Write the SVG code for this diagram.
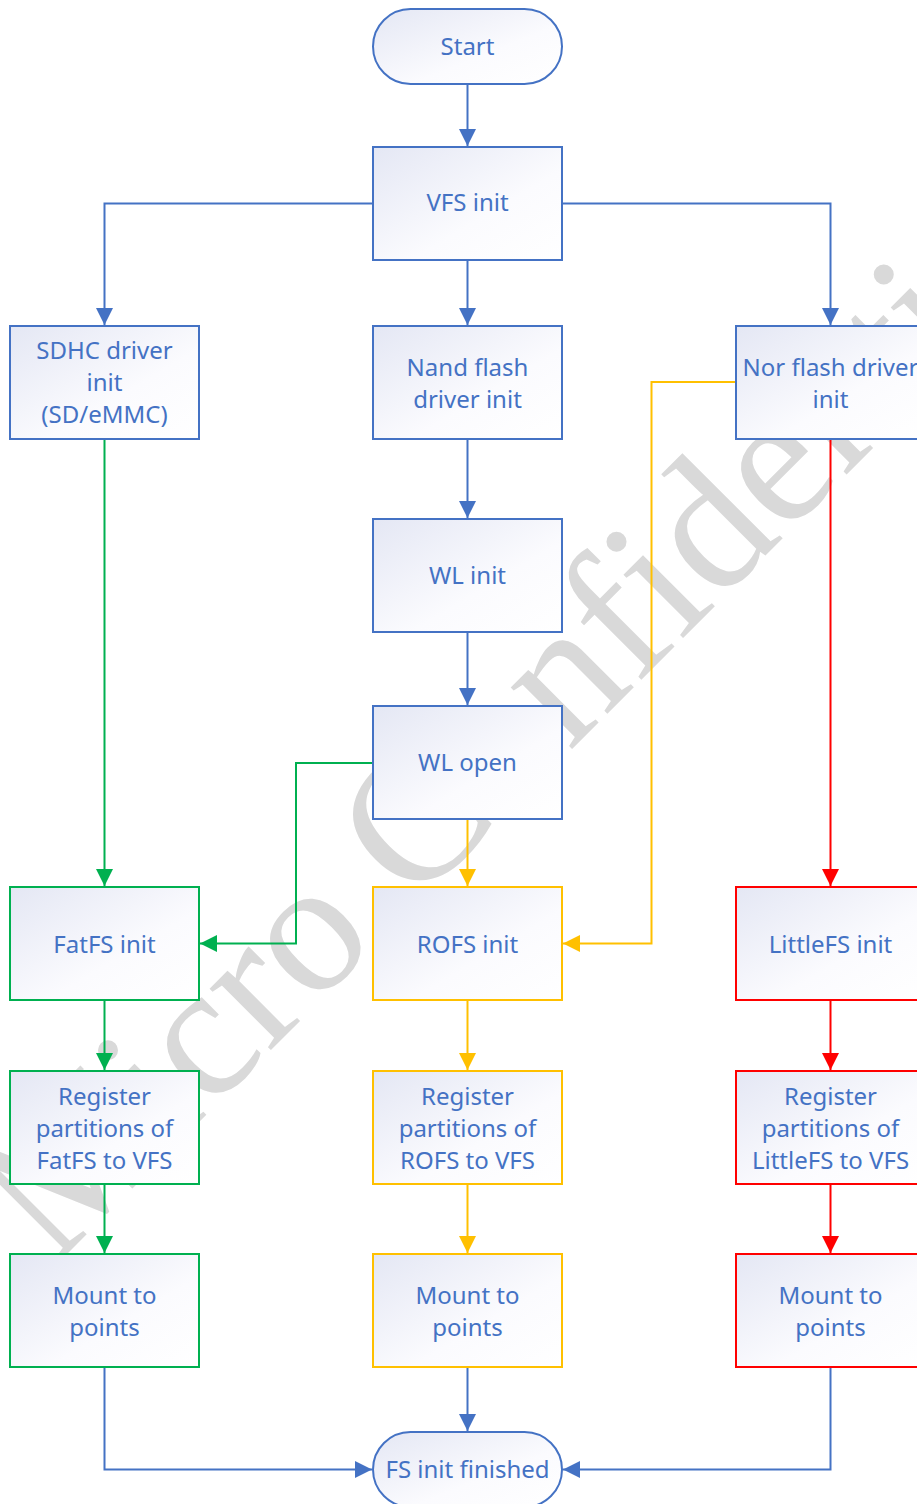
<svg xmlns="http://www.w3.org/2000/svg" width="917" height="1504" viewBox="0 0 917 1504">
<style>
.nb{stroke-width:2}
.b{stroke:#4472C4}
.g{stroke:#00B050}
.y{stroke:#FFC000}
.r{stroke:#FF0000}
.box{fill:url(#gr)}
.t{font-family:"Noto Sans","Liberation Sans",sans-serif;font-size:24px;fill:#4472C4;text-anchor:middle}
.c{fill:none;stroke-width:2}
.wm{font-family:"Liberation Serif",serif;font-size:189px;fill:#d9d9d9}
</style>
<defs>
<linearGradient id="gr" x1="0" y1="0" x2="1" y2="1">
<stop offset="0" stop-color="#e4e7f4"/>
<stop offset="0.6" stop-color="#fbfbfe"/>
<stop offset="1" stop-color="#ffffff"/>
</linearGradient>
<marker id="ab" markerWidth="17" markerHeight="17" refX="17" refY="8.5" orient="auto" markerUnits="userSpaceOnUse"><path d="M0,0 L17,8.5 L0,17 z" fill="#4472C4"/></marker>
<marker id="ag" markerWidth="17" markerHeight="17" refX="17" refY="8.5" orient="auto" markerUnits="userSpaceOnUse"><path d="M0,0 L17,8.5 L0,17 z" fill="#00B050"/></marker>
<marker id="ay" markerWidth="17" markerHeight="17" refX="17" refY="8.5" orient="auto" markerUnits="userSpaceOnUse"><path d="M0,0 L17,8.5 L0,17 z" fill="#FFC000"/></marker>
<marker id="ar" markerWidth="17" markerHeight="17" refX="17" refY="8.5" orient="auto" markerUnits="userSpaceOnUse"><path d="M0,0 L17,8.5 L0,17 z" fill="#FF0000"/></marker>
</defs>
<rect x="0" y="0" width="917" height="1504" fill="#ffffff"/>
<text class="wm" x="53" y="1268" transform="rotate(-45 53 1268)">Micro Confidential</text>

<g id="connectors">
<path class="c b" d="M467.5,84 V146" marker-end="url(#ab)"/>
<path class="c b" d="M373,203.5 H104.5 V325" marker-end="url(#ab)"/>
<path class="c b" d="M467.5,260 V325" marker-end="url(#ab)"/>
<path class="c b" d="M562,203.5 H830.5 V325" marker-end="url(#ab)"/>
<path class="c b" d="M467.5,439 V518" marker-end="url(#ab)"/>
<path class="c b" d="M467.5,632 V705" marker-end="url(#ab)"/>
<path class="c g" d="M104.5,439 V886" marker-end="url(#ag)"/>
<path class="c g" d="M373,763 H296 V943.5 H200" marker-end="url(#ag)"/>
<path class="c y" d="M467.5,819 V886" marker-end="url(#ay)"/>
<path class="c y" d="M736,382 H651.5 V943.5 H563" marker-end="url(#ay)"/>
<path class="c r" d="M830.5,439 V886" marker-end="url(#ar)"/>
<path class="c g" d="M104.5,1000 V1070" marker-end="url(#ag)"/>
<path class="c y" d="M467.5,1000 V1070" marker-end="url(#ay)"/>
<path class="c r" d="M830.5,1000 V1070" marker-end="url(#ar)"/>
<path class="c g" d="M104.5,1184 V1253" marker-end="url(#ag)"/>
<path class="c y" d="M467.5,1184 V1253" marker-end="url(#ay)"/>
<path class="c r" d="M830.5,1184 V1253" marker-end="url(#ar)"/>
<path class="c b" d="M104.5,1367 V1469.5 H372" marker-end="url(#ab)"/>
<path class="c b" d="M467.5,1367 V1431" marker-end="url(#ab)"/>
<path class="c b" d="M830.5,1367 V1469.5 H563" marker-end="url(#ab)"/>
</g>

<g id="start"><rect class="box nb b" x="373" y="9" width="189" height="75" rx="37.5"/><text class="t" x="467.5" y="55">Start</text></g>
<g id="vfs"><rect class="box nb b" x="373" y="147" width="189" height="113"/><text class="t" x="467.5" y="211">VFS init</text></g>
<g id="sdhc"><rect class="box nb b" x="10" y="326" width="189" height="113"/><text class="t" x="104.5" y="359">SDHC driver</text><text class="t" x="104.5" y="391">init</text><text class="t" x="104.5" y="423">(SD/eMMC)</text></g>
<g id="nand"><rect class="box nb b" x="373" y="326" width="189" height="113"/><text class="t" x="467.5" y="376">Nand flash</text><text class="t" x="467.5" y="408">driver init</text></g>
<g id="nor"><rect class="box nb b" x="736" y="326" width="189" height="113"/><text class="t" x="830.5" y="376">Nor flash driver</text><text class="t" x="830.5" y="408">init</text></g>
<g id="wlinit"><rect class="box nb b" x="373" y="519" width="189" height="113"/><text class="t" x="467.5" y="584">WL init</text></g>
<g id="wlopen"><rect class="box nb b" x="373" y="706" width="189" height="113"/><text class="t" x="467.5" y="771">WL open</text></g>
<g id="fatfs"><rect class="box nb g" x="10" y="887" width="189" height="113"/><text class="t" x="104.5" y="953">FatFS init</text></g>
<g id="rofs"><rect class="box nb y" x="373" y="887" width="189" height="113"/><text class="t" x="467.5" y="953">ROFS init</text></g>
<g id="littlefs"><rect class="box nb r" x="736" y="887" width="189" height="113"/><text class="t" x="830.5" y="953">LittleFS init</text></g>
<g id="regfat"><rect class="box nb g" x="10" y="1071" width="189" height="113"/><text class="t" x="104.5" y="1105">Register</text><text class="t" x="104.5" y="1137">partitions of</text><text class="t" x="104.5" y="1169">FatFS to VFS</text></g>
<g id="regro"><rect class="box nb y" x="373" y="1071" width="189" height="113"/><text class="t" x="467.5" y="1105">Register</text><text class="t" x="467.5" y="1137">partitions of</text><text class="t" x="467.5" y="1169">ROFS to VFS</text></g>
<g id="reglittle"><rect class="box nb r" x="736" y="1071" width="189" height="113"/><text class="t" x="830.5" y="1105">Register</text><text class="t" x="830.5" y="1137">partitions of</text><text class="t" x="830.5" y="1169">LittleFS to VFS</text></g>
<g id="mountfat"><rect class="box nb g" x="10" y="1254" width="189" height="113"/><text class="t" x="104.5" y="1304">Mount to</text><text class="t" x="104.5" y="1336">points</text></g>
<g id="mountro"><rect class="box nb y" x="373" y="1254" width="189" height="113"/><text class="t" x="467.5" y="1304">Mount to</text><text class="t" x="467.5" y="1336">points</text></g>
<g id="mountlittle"><rect class="box nb r" x="736" y="1254" width="189" height="113"/><text class="t" x="830.5" y="1304">Mount to</text><text class="t" x="830.5" y="1336">points</text></g>
<g id="finish"><rect class="box nb b" x="373" y="1432" width="189" height="75" rx="37.5"/><text class="t" x="467.5" y="1478">FS init finished</text></g>
</svg>
